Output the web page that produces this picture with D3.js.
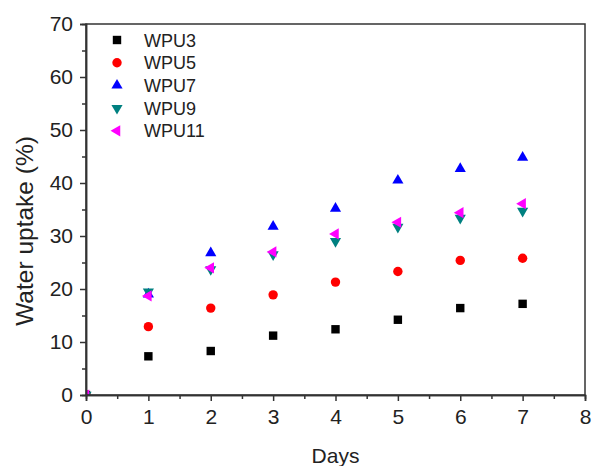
<!DOCTYPE html>
<html>
<head>
<meta charset="utf-8">
<script src="https://cdn.jsdelivr.net/npm/d3@7"></script>
<style>
  body { margin: 0; background: #fff; }
  text { font-family: "Liberation Sans", Arial, sans-serif; fill: #222; }
</style>
</head>
<body>
<div id="chart"></div>
<script>
// data
const days = [0, 1, 2, 3, 4, 5, 6, 7];
const wpu3  = [0, 7.3, 8.3, 11.2, 12.4, 14.2, 16.4, 17.2];
const wpu5  = [0, 12.9, 16.4, 18.9, 21.3, 23.3, 25.4, 25.8];
const wpu7  = [0, 19.0, 26.8, 31.8, 35.2, 40.5, 42.7, 44.8];
const wpu9  = [0, 19.5, 23.7, 26.5, 29.0, 31.7, 33.4, 34.7];
const wpu11 = [0, 18.7, 24.0, 27.0, 30.4, 32.6, 34.4, 36.1];

const seriesNames = ["WPU3", "WPU5", "WPU7", "WPU9", "WPU11"];
const seriesValues = [wpu3, wpu5, wpu7, wpu9, wpu11];
const seriesColors = ["#000000", "#ff0000", "#0000ff", "#008080", "#ff00ff"];

const xTicks = [0, 1, 2, 3, 4, 5, 6, 7, 8];
const yTicks = [0, 10, 20, 30, 40, 50, 60, 70];

const width = 592, height = 466;
const margin = {top: 24, right: 7, bottom: 71, left: 86};

const svg = d3.select("#chart").append("svg")
    .attr("width", width)
    .attr("height", height);

const x = d3.scaleLinear().domain([0, 8]).range([margin.left, width - margin.right]);
const y = d3.scaleLinear().domain([0, 70]).range([height - margin.bottom, margin.top]);

// clip markers to the plot area, like the original
svg.append("defs").append("clipPath").attr("id", "plot-clip")
    .append("rect")
    .attr("x", x(0)).attr("y", y(70))
    .attr("width", x(8) - x(0)).attr("height", y(0) - y(70));

// marker shapes
const triUp = d3.symbol().type(d3.symbolTriangle).size(54)();
function marker(g, i, color) {
    if (i === 0) {
        g.append("rect").attr("x", -4.2).attr("y", -4.2).attr("width", 8.4).attr("height", 8.4).attr("fill", color);
    } else if (i === 1) {
        g.append("circle").attr("r", 4.7).attr("fill", color);
    } else {
        let rot = i === 2 ? 0 : (i === 3 ? 180 : 270);
        g.append("path").attr("d", triUp).attr("fill", color).attr("transform", `rotate(${rot})`);
    }
}

// points
const pts = svg.append("g").attr("clip-path", "url(#plot-clip)");
seriesValues.forEach((vals, i) => {
    const g = pts.append("g");
    vals.forEach((v, j) => {
        const p = g.append("g").attr("transform", `translate(${x(days[j])},${y(v)})`);
        marker(p, i, seriesColors[i]);
    });
});

// frame
const axColor = "#333";
svg.append("rect")
    .attr("x", x(0)).attr("y", y(70))
    .attr("width", x(8) - x(0)).attr("height", y(0) - y(70))
    .attr("fill", "none").attr("stroke", axColor).attr("stroke-width", 1.5);

// x axis
svg.append("g")
    .attr("transform", `translate(0,${y(0)})`)
    .call(d3.axisBottom(x).tickValues(xTicks).tickSize(6).tickPadding(8).tickFormat(d3.format("d")));
svg.append("g")
    .attr("transform", `translate(0,${y(0)})`)
    .call(d3.axisBottom(x).tickValues(d3.range(0.5, 8, 1)).tickSize(4).tickFormat(""));

// y axis
svg.append("g")
    .attr("transform", `translate(${x(0)},0)`)
    .call(d3.axisLeft(y).tickValues(yTicks).tickSize(6).tickPadding(7).tickFormat(d3.format("d")));
svg.append("g")
    .attr("transform", `translate(${x(0)},0)`)
    .call(d3.axisLeft(y).tickValues(d3.range(5, 70, 10)).tickSize(4).tickFormat(""));

svg.selectAll(".domain").attr("stroke", axColor).attr("stroke-width", 1.5);
svg.selectAll(".tick line").attr("stroke", axColor).attr("stroke-width", 1.5);
svg.selectAll(".tick text").style("font-size", "21px").attr("fill", "#222")
    .style("font-family", "'Liberation Sans', Arial, sans-serif");

// axis titles
svg.append("text")
    .attr("x", (x(0) + x(8)) / 2).attr("y", 463)
    .attr("text-anchor", "middle")
    .style("font-size", "21px")
    .text("Days");

svg.append("text")
    .attr("transform", `translate(33,231) rotate(-90)`)
    .attr("text-anchor", "middle")
    .style("font-size", "24.5px")
    .text("Water uptake (%)");

// legend
const legend = svg.append("g");
seriesNames.forEach((name, i) => {
    const row = legend.append("g").attr("transform", `translate(117,${40 + i * 22.7})`);
    marker(row, i, seriesColors[i]);
    row.append("text").attr("x", 27).attr("y", 6.5)
        .style("font-size", "18px")
        .text(name);
});
</script>
</body>
</html>
